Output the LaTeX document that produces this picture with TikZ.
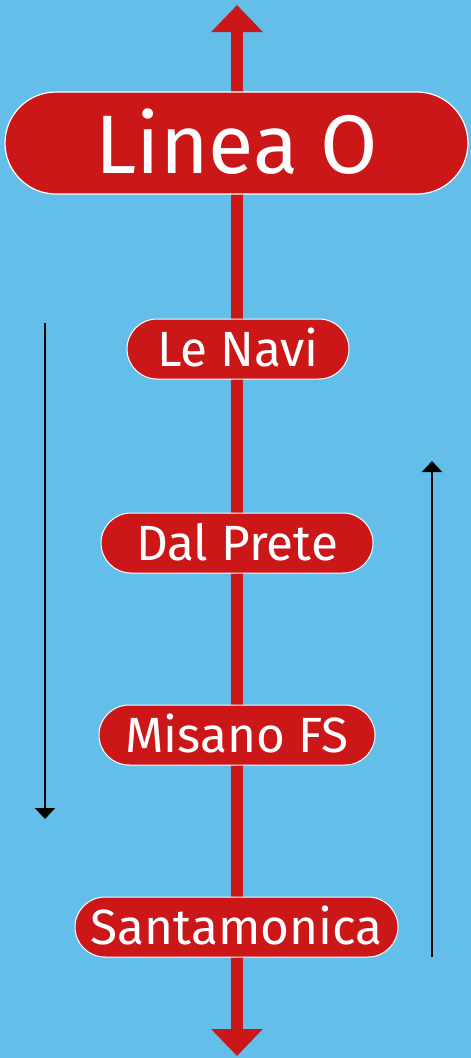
\documentclass[tikz,border=0pt]{standalone}
\usepackage{fontspec}
\setmainfont{Fira Sans}
\usetikzlibrary{arrows.meta}
\definecolor{bgblue}{HTML}{63BEEA}
\definecolor{linered}{HTML}{CC1719}
\newcommand{\upby}[2]{\raisebox{#1}{#2}}
\tikzset{
  stationbox/.style={draw=white, line width=1pt, fill=linered, text=white,
    rounded corners=30pt, minimum height=60pt, inner sep=0pt,
    font=\fontsize{49.5}{54}\selectfont},
  titlebox/.style={draw=white, line width=1.2pt, fill=linered, text=white,
    rounded corners=51pt, minimum height=102pt, minimum width=463pt, inner sep=0pt,
    font=\fontsize{83}{90}\selectfont},
  redline/.style={draw=linered, line width=12pt, -{Triangle[width=50pt,length=27pt]}},
  dirarrow/.style={draw=black, line width=2pt, -{Triangle[width=20pt,length=11pt]}}
}
\begin{document}
\begin{tikzpicture}[x=1pt,y=-1pt]
\fill[bgblue] (0,0) rectangle (471,1058);
\useasboundingbox (0,0) rectangle (471,1058);
\coordinate (mid) at (237,500);
\coordinate (toptip) at (237,5);
\coordinate (bottip) at (237,1056);
\draw[redline] (mid) -- (toptip);
\draw[redline] (mid) -- (bottip);
\node[titlebox] (title) at (236.5,143) {\upby{4pt}{Linea O}};
\node[stationbox, minimum width=222pt] (s1) at (238,349) {\upby{3pt}{Le Navi}};
\node[stationbox, minimum width=272pt] (s2) at (237,543) {\upby{3pt}{Dal Prete}};
\node[stationbox, minimum width=276pt] (s3) at (237,735) {\upby{3pt}{Misano FS}};
\node[stationbox, minimum width=323pt] (s4) at (236.5,927) {\upby{3pt}{Santamonica}};
\coordinate (lstart) at (45,323);
\coordinate (lend) at (45,819);
\coordinate (rstart) at (432,957);
\coordinate (rend) at (432,461);
\draw[dirarrow] (lstart) -- (lend);
\draw[dirarrow] (rstart) -- (rend);
\end{tikzpicture}
\end{document}
